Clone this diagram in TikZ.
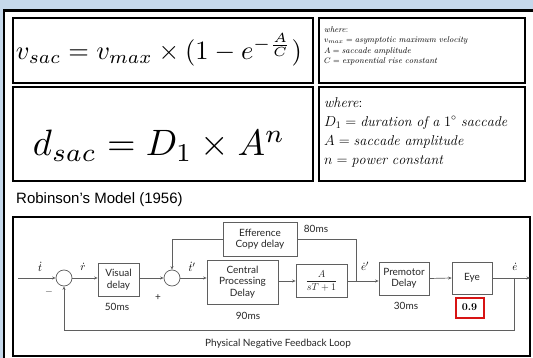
\documentclass[tikz,border=0pt]{standalone}
\usepackage{fontspec}
\usepackage{amsmath}
\usepackage{graphicx}
\newfontfamily\dsans{Lato}
\newfontfamily\tsans{Liberation Sans}
\usetikzlibrary{arrows.meta}
\definecolor{bgblue}{RGB}{197,216,235}
\definecolor{lgrey}{RGB}{95,95,95}
\definecolor{boxred}{RGB}{215,20,20}
\begin{document}
\begin{tikzpicture}[x=1pt,y=-1pt,
 blk/.style={draw=lgrey, line width=0.7pt, fill=white, inner sep=0pt, align=center, font=\dsans\fontsize{10}{11.5}\selectfont, text=black!85},
 sumj/.style={circle, draw=lgrey, line width=0.7pt, minimum size=16pt, inner sep=0pt},
 lbl/.style={font=\dsans\fontsize{10}{11.5}\selectfont, inner sep=0pt, text=black!85},
 sym/.style={font=\fontsize{11}{12}\selectfont, inner sep=0pt},
 conn/.style={draw=lgrey, line width=0.7pt, -{Stealth[length=3.5pt,width=3pt]}},
 wire/.style={draw=lgrey, line width=0.7pt},
 frame/.style={draw=black, line width=1.8pt},
]
\fill[bgblue] (0,0) rectangle (533,358);
\useasboundingbox (0,0) rectangle (533,358);
\filldraw[fill=white, draw=black, line width=2.5pt] (4,10.5) rectangle (545,372);
% formula boxes
\draw[frame] (13,18) rectangle (313,83);
\draw[frame] (319,18) rectangle (525,83);
\draw[frame] (13,87) rectangle (313,181);
\draw[frame] (319,87) rectangle (525,181);
\node[inner sep=0pt] (f1) at (159,50) {\resizebox{286pt}{!}{$v_{sac} = v_{max} \times (1 - e^{-\frac{A}{C}})$}};
\node[inner sep=0pt] (f2) at (159,146) {\resizebox{252pt}{!}{$d_{sac} = D_1 \times A^n$}};
\node[anchor=north west, align=left, inner sep=0pt, font=\fontsize{8.5}{10.5}\selectfont] (w1) at (324,26)
 {\textit{where}:\\ $v_{max} = \mathit{asymptotic\ maximum\ velocity}$\\ $A = \mathit{saccade\ amplitude}$\\ $C = \mathit{exponential\ rise\ constant}$};
\node[anchor=north west, align=left, inner sep=0pt, font=\fontsize{14.2}{19}\selectfont] (w2) at (324,97)
 {\textit{where}:\\ $D_1 = \mathit{duration\ of\ a\ }1^{\circ}\ \mathit{saccade}$\\ $A = \mathit{saccade\ amplitude}$\\ $n = \mathit{power\ constant}$};
% title
\node[anchor=west, inner sep=0pt, font=\tsans\fontsize{15}{17}\selectfont] (title) at (16,200) {Robinson’s Model (1956)};
% diagram frame
\draw[black, line width=2.2pt] (13,217) rectangle (530,356);
% blocks
\coordinate (in) at (18,278);
\node[sumj] (s1) at (64,278) {};
\node[blk, minimum width=41pt, minimum height=33pt] (vd) at (118.5,279.5) {Visual\\delay};
\node[sumj] (s2) at (172,278) {};
\node[blk, minimum width=71pt, minimum height=44pt] (cpd) at (242.5,282) {Central\\Processing\\Delay};
\node[blk, minimum width=74pt, minimum height=34pt] (ecd) at (260,239) {Efference\\Copy delay};
\node[blk, minimum width=51pt, minimum height=33pt] (tf) at (321.5,281) {\fontsize{10}{11}\selectfont$\dfrac{A}{sT+1}$};
\node[blk, minimum width=50pt, minimum height=33pt] (pm) at (404,278.5) {Premotor\\Delay};
\node[blk, minimum width=40pt, minimum height=32pt] (eye) at (472,278) {Eye};
\node[draw=boxred, line width=2pt, fill=white, minimum width=28pt, minimum height=20pt, inner sep=0pt, font=\bfseries\fontsize{10.5}{11}\selectfont] (gain) at (469.5,307.5) {0.9};
\coordinate (out) at (530,278);
\coordinate (j1) at (356,281);
\coordinate (fb) at (514,278);
\coordinate (fbc) at (514,330);
% connectors
\draw[conn] (in) -- (s1.west);
\draw[conn] (s1.east) -- (vd.west |- s1.east);
\draw[conn] (vd.east |- s2.west) -- (s2.west);
\draw[conn] (s2.east) -- (cpd.west |- s2.east);
\draw[conn] (cpd.east |- tf.west) -- (tf.west);
\draw[conn] (tf.east) -- (pm.west |- tf.east);
\draw[wire] (ecd.east) -| (j1);
\draw[conn] (ecd.west) -| (s2.north);
\draw[conn] (pm.east) -- (eye.west);
\draw[conn] (eye.east) -- (out);
\draw[conn] (fb) -- (fbc) -| (s1.south);
% labels
\node[sym] (lt) at (40,267) {$\dot{t}$};
\node[lbl] (lminus) at (49,292) {$-$};
\node[sym] (lr) at (83,267) {$\dot{r}$};
\node[lbl] (lplus) at (158,298) {+};
\node[sym] (ltp) at (192,267) {$\dot{t}'$};
\node[sym] (lep) at (365,266) {$\dot{e}'$};
\node[sym] (le) at (515,267) {$\dot{e}$};
\node[lbl] (d50) at (117,307) {50ms};
\node[lbl] (d90) at (248,316) {90ms};
\node[lbl] (d30) at (406,306) {30ms};
\node[lbl] (d80) at (316,229) {80ms};
\node[lbl] (loop) at (278,344) {Physical Negative Feedback Loop};
\end{tikzpicture}
\end{document}
